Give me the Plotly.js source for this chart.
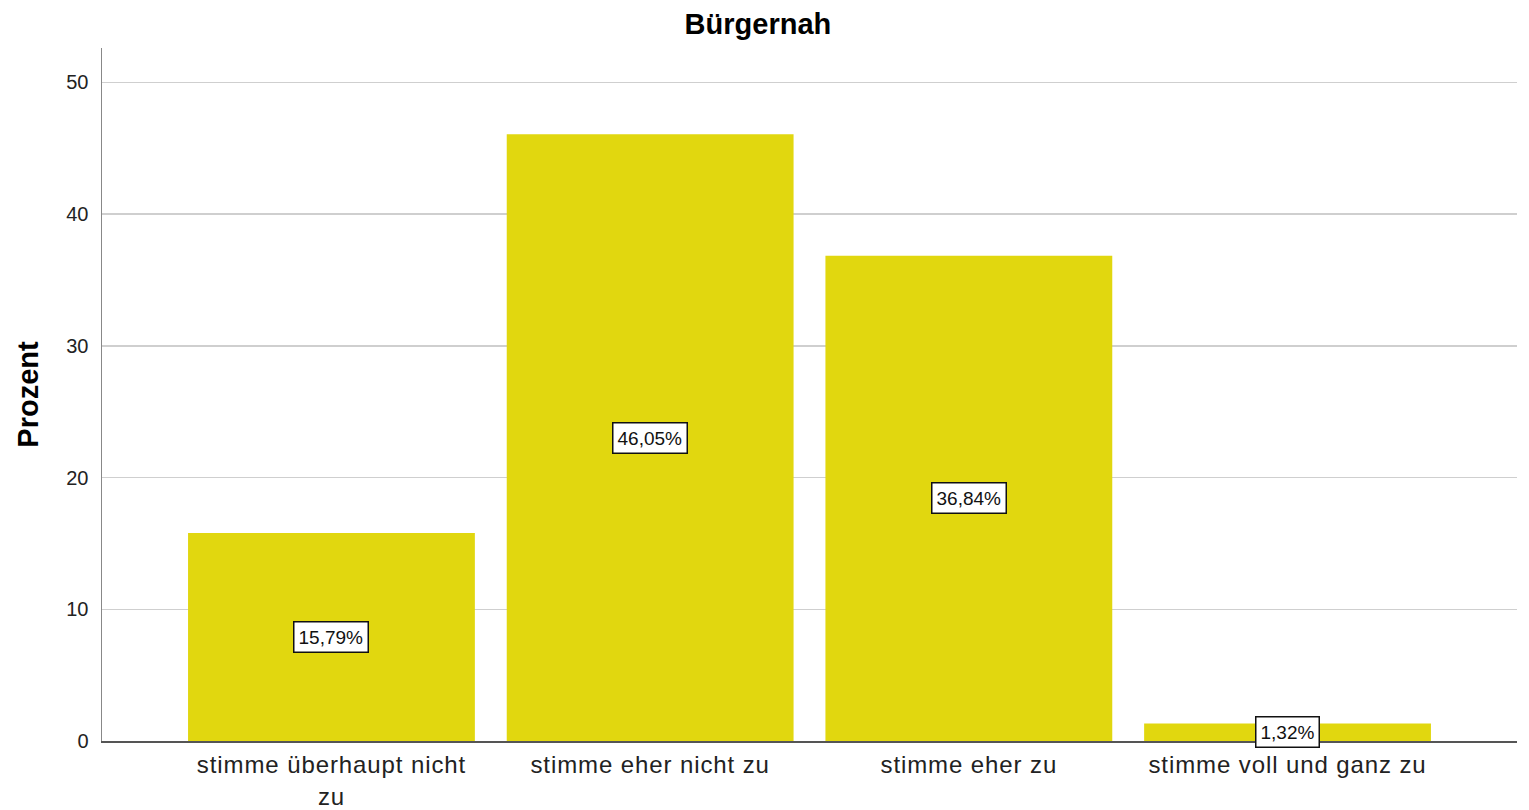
<!DOCTYPE html>
<html>
<head>
<meta charset="utf-8">
<script src="https://cdn.plot.ly/plotly-3.0.1.min.js"></script>
<style>
html,body{margin:0;padding:0;background:#fff;}
#chart{width:1529px;height:810px;}
#chart .xtick text{letter-spacing:0.9px;}
</style>
</head>
<body>
<div id="chart"></div>
<script>
const categories = ["stimme überhaupt nicht<br>zu", "stimme eher nicht zu", "stimme eher zu", "stimme voll und ganz zu"];
const percentValues = [15.79, 46.05, 36.84, 1.32];
const valueLabels = ["15,79%", "46,05%", "36,84%", "1,32%"];
const yTickValues = [0, 10, 20, 30, 40, 50];
const yTickLabels = ["0", "10", "20", "30", "40", "50"];

const FONT = 'Liberation Sans, Arial, sans-serif';

const trace = {
  type: 'bar',
  x: categories,
  y: percentValues,
  marker: {color: '#E1D70F', line: {width: 0}},
  hoverinfo: 'none'
};

const annotations = categories.map((c, i) => ({
  x: c,
  y: percentValues[i] / 2,
  xref: 'x', yref: 'y',
  text: valueLabels[i],
  showarrow: false,
  bgcolor: '#ffffff',
  bordercolor: '#111111',
  borderwidth: 1.5,
  borderpad: 4,
  font: {family: FONT, size: 19, color: '#111'}
}));

const layout = {
  width: 1529, height: 810,
  margin: {l: 102, r: 12, t: 48, b: 69},
  paper_bgcolor: '#fff', plot_bgcolor: '#fff',
  bargap: 0.1,
  showlegend: false,
  title: {
    text: 'Bürgernah',
    font: {family: FONT, size: 29, color: '#000', weight: 'bold'},
    x: 0.4957, xref: 'container', xanchor: 'center',
    y: 0.97, yref: 'container', yanchor: 'middle'
  },
  xaxis: {
    type: 'category',
    range: [-0.72, 3.72],
    showgrid: false,
    showline: true, linecolor: '#555', linewidth: 1.5,
    ticks: '',
    tickfont: {family: FONT, size: 24, color: '#222'},
    ticklabelstandoff: 2,
    zeroline: false
  },
  yaxis: {
    range: [0, 52.6],
    tickvals: yTickValues,
    ticktext: yTickLabels,
    showgrid: true, gridcolor: '#cfcfcf', gridwidth: 1.5,
    showline: true, linecolor: '#888', linewidth: 1.5,
    ticks: '',
    ticklabelstandoff: 8,
    tickfont: {family: FONT, size: 20, color: '#222'},
    zeroline: false,
    title: {
      text: 'Prozent',
      font: {family: FONT, size: 29, color: '#000', weight: 'bold'},
      standoff: 19
    }
  },
  annotations: annotations
};

Plotly.newPlot('chart', [trace], layout, {displayModeBar: false, staticPlot: true});
</script>
</body>
</html>
